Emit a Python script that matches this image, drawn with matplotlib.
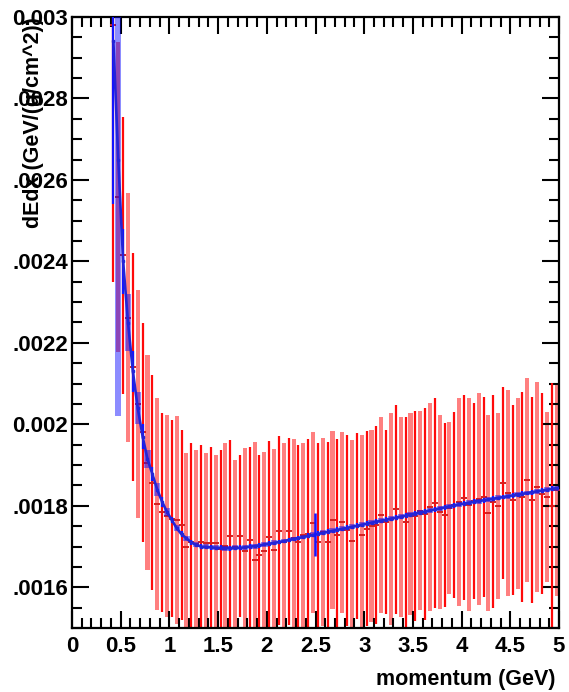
import numpy as np
import matplotlib
matplotlib.use("Agg")
import matplotlib.pyplot as plt
from matplotlib.ticker import MultipleLocator, FixedLocator, FixedFormatter

plt.rcParams['font.family'] = ['Liberation Sans', 'DejaVu Sans']

# momentum bin centres (GeV), 0.05 GeV bins
momentum = np.round(np.arange(0.425, 5.0, 0.05), 3)

# measured dE/dx per bin (GeV/(g/cm^2)) and its spread
measured_dedx = [
    0.00298, 0.002558, 0.002415, 0.002262, 0.00214, 0.00205, 0.00198, 0.001906,
    0.001857, 0.001805, 0.001784, 0.001775, 0.001768, 0.001765, 0.001753, 0.001699,
    0.001712, 0.001706, 0.00171, 0.001708, 0.001708, 0.001708, 0.001694, 0.001702,
    0.001727, 0.0017, 0.001726, 0.00169, 0.001716, 0.001667, 0.001679, 0.00169,
    0.001724, 0.001691, 0.001739, 0.001712, 0.001737, 0.00172, 0.001712, 0.001728,
    0.00173, 0.001758, 0.00171, 0.001735, 0.00171, 0.001765, 0.001728, 0.00176,
    0.00174, 0.001713, 0.00175, 0.001728, 0.001744, 0.00175, 0.001753, 0.001777,
    0.00176, 0.001768, 0.001791, 0.001772, 0.00176, 0.00178, 0.001775, 0.001788,
    0.00178, 0.001797, 0.001807, 0.001785, 0.001777, 0.001795, 0.001802, 0.00181,
    0.00182, 0.001803, 0.001812, 0.001817, 0.001822, 0.001782, 0.00181, 0.0018,
    0.001856, 0.001831, 0.001814, 0.00183, 0.001822, 0.001863, 0.001814, 0.001846,
    0.00183, 0.001822, 0.0018, 0.00184,
]
measured_spread = [
    0.00063, 0.00038, 0.00034, 0.000306, 0.00028, 0.00028, 0.00027, 0.000264,
    0.000264, 0.00026, 0.000244, 0.000248, 0.000242, 0.000255, 0.000234, 0.000231,
    0.000242, 0.000231, 0.000239, 0.000222, 0.000236, 0.000217, 0.000243, 0.000252,
    0.000234, 0.000212, 0.000199, 0.000252, 0.000228, 0.00029, 0.000246, 0.000242,
    0.000236, 0.000248, 0.000232, 0.000241, 0.000229, 0.000245, 0.000238, 0.000226,
    0.000234, 0.000222, 0.000244, 0.000231, 0.000246, 0.000218, 0.000237, 0.000222,
    0.000235, 0.000249, 0.000228, 0.000247, 0.000239, 0.000236, 0.000242, 0.000241,
    0.000226, 0.00026, 0.000256, 0.000246, 0.000258, 0.000248, 0.000258, 0.000245,
    0.00026, 0.000255, 0.000258, 0.000238, 0.000226, 0.000211, 0.000228, 0.000255,
    0.000252, 0.000262, 0.00024, 0.00026, 0.000245, 0.000241, 0.000262, 0.000228,
    0.000236, 0.000253, 0.000233, 0.000235, 0.000258, 0.000251, 0.000253, 0.000258,
    0.000247, 0.000208, 0.000301, 0.000261,
]

# expected dE/dx curve per bin and its uncertainty
expected_dedx = [
    0.00294, 0.00265, 0.0024, 0.00225, 0.00213, 0.00204, 0.00197, 0.001915,
    0.001878, 0.00184, 0.00181, 0.001785, 0.001765, 0.001745, 0.00173, 0.00172,
    0.00171, 0.001704, 0.0017, 0.001699, 0.001698, 0.001697, 0.001697, 0.001696,
    0.001696, 0.001697, 0.001697, 0.001698, 0.0017, 0.001701, 0.001703, 0.001705,
    0.001707, 0.001709, 0.001711, 0.0017135, 0.001716, 0.0017185, 0.001721, 0.0017235,
    0.001726, 0.0017285, 0.001731, 0.0017335, 0.001736, 0.0017385, 0.001741, 0.0017435,
    0.001746, 0.0017485, 0.001751, 0.0017535, 0.001756, 0.0017585, 0.001761, 0.0017635,
    0.001766, 0.0017685, 0.001771, 0.0017735, 0.001776, 0.0017785, 0.001781, 0.0017835,
    0.001786, 0.0017885, 0.001791, 0.0017935, 0.001796, 0.0017985, 0.001801, 0.0018035,
    0.0018055, 0.0018075, 0.0018095, 0.0018115, 0.0018135, 0.0018155, 0.0018175, 0.0018195,
    0.0018215, 0.0018235, 0.0018255, 0.0018275, 0.0018295, 0.0018315, 0.0018335, 0.0018355,
    0.0018375, 0.0018395, 0.0018415, 0.0018435,
]
expected_err = [
    0.0004, 0.00063, 0.00008, 0.00007, 0.00005, 0.00004, 0.00003, 0.000022,
    0.000018, 0.000015, 0.000012, 0.00001, 0.000008, 0.000008, 0.000007, 0.000007,
] + [0.000006] * 76

# single reference point with its uncertainty
ref_momentum = [2.49]
ref_dedx = [0.00173]
ref_err = [0.000053]

x_ticks = [0, 0.5, 1, 1.5, 2, 2.5, 3, 3.5, 4, 4.5, 5]
x_ticklabels = ["0", "0.5", "1", "1.5", "2", "2.5", "3", "3.5", "4", "4.5", "5"]
y_ticks = [0.0016, 0.0018, 0.002, 0.0022, 0.0024, 0.0026, 0.0028, 0.003]
y_ticklabels = [".0016", ".0018", "0.002", ".0022", ".0024", ".0026", ".0028", "0.003"]

W, H = 569, 692
fig = plt.figure(figsize=(W / 100, H / 100), dpi=100)
ax = fig.add_axes([72 / W, 1 - 628 / H, (559 - 72) / W, (628 - 17) / H])

p = np.asarray(momentum)
m = np.asarray(measured_dedx)
s = np.asarray(measured_spread)
e = np.asarray(expected_dedx)
de = np.asarray(expected_err)

# measured: alternate bins as thin bars and translucent bands
ax.bar(p[1::2], 2 * s[1::2], bottom=m[1::2] - s[1::2], width=0.042,
       color='#ff0000', alpha=0.5, linewidth=0, zorder=1)
ax.errorbar(p[::2], m[::2], yerr=s[::2], fmt='none', ecolor='#ff0a0a',
            elinewidth=1.6, capsize=0, zorder=2)
ax.plot(p, m, ls='none', marker='_', ms=5, mew=1.4, color='#d42020', zorder=3)

# expected curve with uncertainties
ax.bar(p[1::2], 2 * de[1::2], bottom=e[1::2] - de[1::2], width=0.065,
       color='#0000ff', alpha=0.45, linewidth=0, zorder=4)
ax.errorbar(p[::2], e[::2], yerr=de[::2], fmt='none', ecolor='#1414ff',
            elinewidth=1.6, capsize=0, zorder=5)
ax.plot(p, e, color='#2424d8', lw=1.9, marker='s', ms=2.0, zorder=6)
ax.errorbar(ref_momentum, ref_dedx, yerr=ref_err, fmt='none', ecolor='#1414ff',
            elinewidth=1.8, capsize=0, zorder=6)

ax.set_xlim(0, 5)
ax.set_ylim(0.0015, 0.003)

ax.xaxis.set_major_locator(FixedLocator(x_ticks))
ax.xaxis.set_major_formatter(FixedFormatter(x_ticklabels))
ax.xaxis.set_minor_locator(MultipleLocator(0.1))
ax.yaxis.set_major_locator(FixedLocator(y_ticks))
ax.yaxis.set_major_formatter(FixedFormatter(y_ticklabels))
ax.yaxis.set_minor_locator(MultipleLocator(0.00005))

for sp in ax.spines.values():
    sp.set_linewidth(1.6)
ax.tick_params(which='both', direction='in', top=True, right=True, width=1.5)
ax.tick_params(which='major', length=12.5)
ax.tick_params(which='minor', length=7)
ax.tick_params(axis='y', which='major', labelsize=16, pad=3)
ax.tick_params(axis='x', which='major', labelsize=16, pad=6)
for lab in ax.get_xticklabels() + ax.get_yticklabels():
    lab.set_fontweight('bold')

fig.text(556 / W, 1 - 680 / H, 'momentum (GeV)', ha='right', va='center',
         fontsize=15.5, fontweight='bold')
fig.text(34 / W, 1 - 17 / H, 'dEdx (GeV/(g/cm^2))', rotation=90,
         ha='center', va='top', fontsize=15.5, fontweight='bold')

fig.savefig('out.png', dpi=100)
